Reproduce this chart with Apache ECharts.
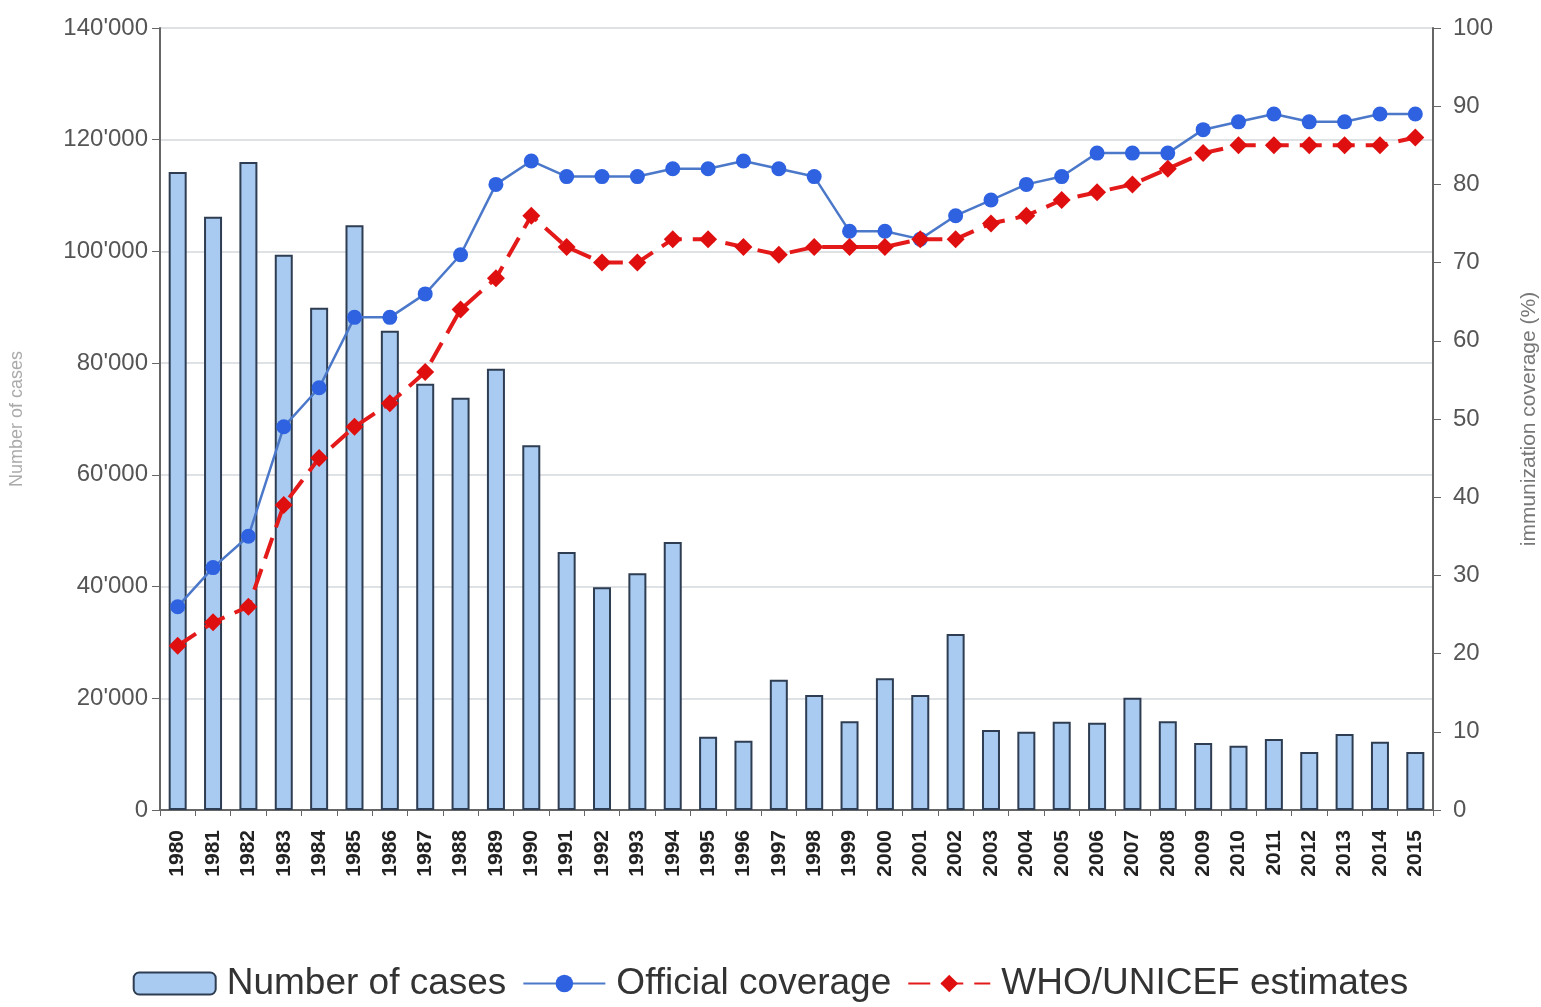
<!DOCTYPE html>
<html>
<head>
<meta charset="utf-8">
<script src="https://cdn.jsdelivr.net/npm/echarts@6/dist/echarts.min.js"></script>
<style>
  html, body { margin: 0; padding: 0; background: #fff; }
  #chart { width: 1541px; height: 1007px; }
</style>
</head>
<body>
<div id="chart"></div>
<script>
const years = ['1980', '1981', '1982', '1983', '1984', '1985', '1986', '1987', '1988', '1989',
  '1990', '1991', '1992', '1993', '1994', '1995', '1996', '1997', '1998', '1999',
  '2000', '2001', '2002', '2003', '2004', '2005', '2006', '2007', '2008', '2009',
  '2010', '2011', '2012', '2013', '2014', '2015']

const cases = [114200, 106200, 116000, 99400, 89900, 104700, 85800, 76300, 73800, 79000,
  65300, 46200, 39900, 42400, 48000, 13100, 12400, 23300, 20600, 15900,
  23600, 20600, 31500, 14300, 14000, 15800, 15600, 20100, 15900, 12000,
  11500, 12700, 10400, 13600, 12200, 10400]

const officialCoverage = [26, 31, 35, 49, 54, 63, 63, 66, 71, 80,
  83, 81, 81, 81, 82, 82, 83, 82, 81, 74,
  74, 73, 76, 78, 80, 81, 84, 84, 84, 87,
  88, 89, 88, 88, 89, 89]

const whoEstimates = [21, 24, 26, 39, 45, 49, 52, 56, 64, 68,
  76, 72, 70, 70, 73, 73, 72, 71, 72, 72,
  72, 73, 73, 75, 76, 78, 79, 80, 82, 84,
  85, 85, 85, 85, 85, 86]

const chart = echarts.init(document.getElementById('chart'))

// left axis labels use the apostrophe thousands separator
const fmtCases = (v) => String(v).replace(/\B(?=(\d{3})+(?!\d))/g, "'")

const font = 'Liberation Sans, Arial'

const option = {
  animation: false,
  backgroundColor: '#fff',
  grid: { left: 160, right: 108, top: 28, bottom: 197, containLabel: false, outerBoundsMode: 'none' },
  legend: {
    bottom: 0,
    left: 'center',
    itemWidth: 82,
    itemHeight: 22,
    itemGap: 16,
    textStyle: { fontSize: 37, color: '#333', fontFamily: font, padding: [0, 0, 0, 6] },
    data: ['Number of cases', 'Official coverage', 'WHO/UNICEF estimates']
  },
  xAxis: {
    type: 'category',
    data: years,
    boundaryGap: true,
    axisLine: { lineStyle: { color: '#666', width: 2 } },
    axisTick: { show: true, length: 6, lineStyle: { color: '#666' } },
    axisLabel: {
      rotate: 90,
      fontSize: 21,
      fontWeight: 'bold',
      color: '#222',
      margin: 20,
      fontFamily: font
    }
  },
  yAxis: [
    {
      type: 'value',
      min: 0,
      max: 140000,
      interval: 20000,
      name: 'Number of cases',
      nameLocation: 'middle',
      nameGap: 134,
      nameTextStyle: { fontSize: 18, color: '#aaa', fontFamily: font },
      axisLine: { show: true, lineStyle: { color: '#666', width: 2 } },
      axisTick: { show: true, length: 8, lineStyle: { color: '#666' } },
      axisLabel: { fontSize: 24, color: '#555', formatter: fmtCases, margin: 12, fontFamily: font },
      splitLine: { show: true, lineStyle: { color: '#d4d8dc', width: 1.5 } }
    },
    {
      type: 'value',
      min: 0,
      max: 100,
      interval: 10,
      position: 'right',
      name: 'immunization coverage (%)',
      nameLocation: 'middle',
      nameGap: 86,
      nameRotate: 90,
      nameTextStyle: { fontSize: 21, color: '#777', fontFamily: font },
      axisLine: { show: true, lineStyle: { color: '#666', width: 2 } },
      axisTick: { show: true, length: 8, lineStyle: { color: '#666' } },
      axisLabel: { fontSize: 24, color: '#555', margin: 20, fontFamily: font },
      splitLine: { show: false }
    }
  ],
  series: [
    {
      name: 'Number of cases',
      type: 'bar',
      yAxisIndex: 0,
      barWidth: 18,
      itemStyle: { color: '#a9cbf2', borderColor: '#2e3d52', borderWidth: 2 },
      data: cases
    },
    {
      name: 'Official coverage',
      type: 'line',
      yAxisIndex: 1,
      symbol: 'circle',
      symbolSize: 15,
      lineStyle: { color: '#4b78c9', width: 2.5 },
      itemStyle: { color: '#2f62e0' },
      data: officialCoverage,
      z: 3
    },
    {
      name: 'WHO/UNICEF estimates',
      type: 'line',
      yAxisIndex: 1,
      symbol: 'diamond',
      symbolSize: 18,
      lineStyle: { color: '#e41a1a', width: 4, type: [22, 11] },
      itemStyle: { color: '#e00f0f' },
      data: whoEstimates,
      z: 4
    }
  ]
}

chart.setOption(option)
</script>
</body>
</html>
